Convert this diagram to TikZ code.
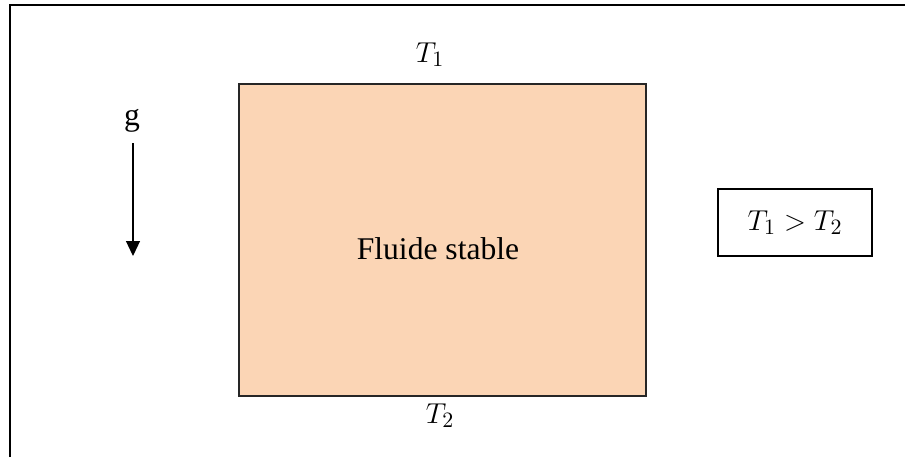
\documentclass[tikz,border=0pt]{standalone}
\usepackage{fontspec}
\setmainfont{Liberation Serif}
\usetikzlibrary{arrows.meta,positioning}
\definecolor{Peach}{HTML}{FBD5B5}
\definecolor{Edge}{HTML}{262626}
\tikzset{fluid/.style={draw=Edge,fill=Peach,line width=.8pt,minimum width=203.5pt,minimum height=156pt,inner sep=0pt},txt/.style={font=\fontsize{15.8}{19}\selectfont,inner sep=0pt,anchor=base},cond/.style={draw,line width=.8pt,minimum width=77pt,minimum height=33.5pt,inner sep=0pt,font=\fontsize{15.8}{19}\selectfont},gravity/.style={-{Triangle[length=7.5pt,width=7pt]},line width=.6pt}}
\begin{document}
\begin{tikzpicture}[x=.5pt,y=-.5pt]
        \useasboundingbox(0,0)rectangle(905,457);
        \draw[line width=1pt](10,457)--(10,5)--(905,5);
        \node[fluid](fluid)at(442.5,240){};
        \node[txt](label)at(438,259){Fluide stable};
        \node[txt](top)at(430,62){$T_1$};
        \node[txt](bottom)at(440,423){$T_2$};
        \node[txt](g)at(132,125){g};
        \coordinate(gstart)at(133,143);
        \coordinate(gend)at(133,256);
        \draw[gravity](gstart)--(gend);
        \node[cond](ineq)at(795,222.5){$T_1>T_2$};
      \end{tikzpicture}
\end{document}
